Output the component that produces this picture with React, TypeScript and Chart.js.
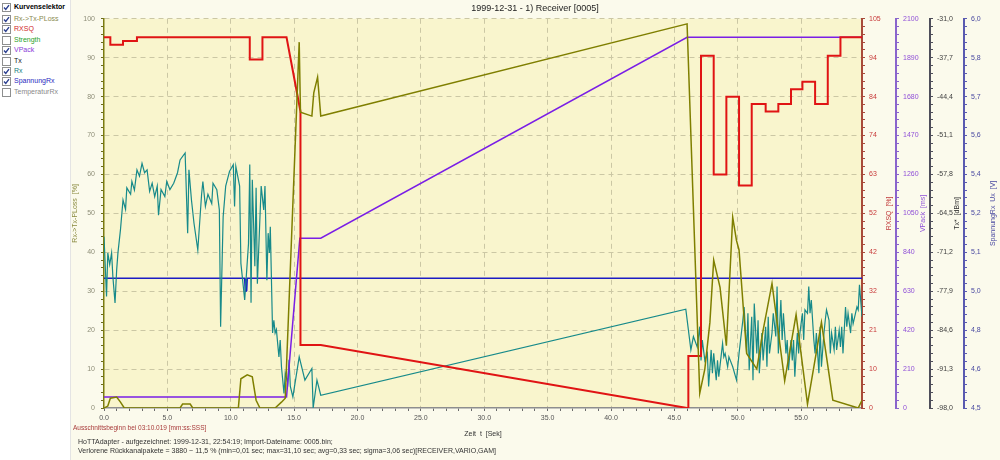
import React, { useEffect, useRef } from "react";
import { Chart, registerables } from "chart.js";

Chart.register(...registerables);

const FONT = "'Liberation Sans', Arial, sans-serif";

const chartTitle = "1999-12-31 - 1) Receiver [0005]";
const xTitle = "Zeit  t  [Sek]";
const startInfo = "Ausschnittsbeginn bei 03:10.019 [mm:ss:SSS]";
const footerLine1 = "HoTTAdapter - aufgezeichnet: 1999-12-31, 22:54:19; Import-Dateiname: 0005.bin;";
const footerLine2 =
  "Verlorene Rückkanalpakete = 3880 ~ 11,5 % (min=0,01 sec; max=31,10 sec; avg=0,33 sec; sigma=3,06 sec)[RECEIVER,VARIO,GAM]";

// ---- series (time [s], value) ----
const ploss: [number, number][] = [
  [0, 0], [0.3, 0.5], [0.5, 2.5], [1.0, 2.8], [1.3, 1.5], [1.6, 0], [6.0, 0], [6.2, 1], [6.8, 1], [7.0, 0],
  [10.6, 0], [10.8, 7.5], [11.3, 8.5], [11.7, 8], [12.0, 2], [12.3, 0], [13.5, 0], [14.0, 1.5], [14.3, 2.5],
  [15.4, 94], [15.5, 76], [16.4, 75], [16.55, 81], [16.85, 85], [17.1, 75], [46.0, 98.7], [47.0, 3.8],
  [47.4, 10], [47.8, 22], [48.1, 38], [48.6, 31], [49.1, 16], [49.6, 49], [49.9, 43], [50.1, 40.6], [50.7, 14],
  [51.5, 10], [52.0, 20], [52.7, 32], [53.7, 7], [54.6, 24], [55.5, 1], [56.6, 22], [57.5, 2], [59.5, 0], [59.8, 2],
];

const rxsq: [number, number][] = [
  [0, 100], [0.5, 100], [0.5, 98], [1.5, 98], [1.5, 99], [2.6, 99], [2.6, 100], [11.5, 100], [11.5, 94],
  [12.5, 94], [12.5, 100], [14.4, 100], [15.5, 80], [15.5, 17], [17.1, 17], [46.0, 0], [46.1, 0], [46.1, 14],
  [47.1, 14], [47.1, 95], [48.1, 95], [48.1, 63], [49.1, 63], [49.1, 84], [50.1, 84], [50.1, 60], [51.1, 60],
  [51.1, 82], [52.2, 82], [52.2, 80], [53.2, 80], [53.2, 82], [54.2, 82], [54.2, 86], [55.1, 86], [55.1, 88],
  [56.1, 88], [56.1, 82], [57.1, 82], [57.1, 95], [58.1, 95], [58.1, 100], [59.8, 100],
];

const vpack: [number, number][] = [
  [0, 60], [14.4, 60], [15.45, 916], [17.1, 916], [46.0, 2000], [59.8, 2000],
];

const rx: [number, number][] = [
  [0, -68.5], [0.2, -78.8], [0.3, -71.3], [0.45, -73.3], [0.6, -71.3], [0.7, -75.4], [0.87, -79.9], [1.0, -74.2],
  [1.1, -71.3], [1.3, -67.3], [1.5, -62.2], [1.7, -63.8], [1.8, -60.1], [2.1, -61.2], [2.2, -59.0], [2.4, -60.5],
  [2.6, -57.0], [2.8, -58.1], [3.0, -55.9], [3.2, -57.5], [3.4, -57.0], [3.6, -60.7], [3.8, -59.3], [4.0, -61.6],
  [4.2, -59.8], [4.3, -64.8], [4.5, -60.4], [4.8, -61.6], [4.95, -59.0], [5.2, -60.4], [5.5, -59.3], [5.8, -57.5],
  [6.0, -55.3], [6.4, -54.1], [6.6, -67.9], [6.7, -57.0], [6.9, -62.2], [7.1, -66.2], [7.4, -70.8], [7.7, -61.2],
  [7.8, -59.0], [8.0, -63.3], [8.2, -61.2], [8.5, -62.8], [8.6, -59.3], [8.9, -60.4], [9.1, -63.9], [9.2, -84.0],
  [9.4, -65.1], [9.6, -59.8], [9.9, -57.3], [10.2, -56.1], [10.3, -63.3], [10.4, -56.4], [10.7, -59.8], [10.8, -73.1],
  [11.1, -79.4], [11.4, -69.7], [11.5, -56.1], [11.6, -79.9], [11.7, -58.7], [11.9, -73.6], [12.0, -60.1],
  [12.1, -76.6], [12.4, -59.8], [12.6, -63.9], [12.7, -59.8], [12.85, -76.0], [12.95, -67.9], [13.05, -71.3],
  [13.12, -66.8], [13.3, -85.1], [13.4, -82.9], [13.5, -85.1], [13.6, -84.5], [13.8, -89.2], [13.9, -86.3],
  [14.0, -90.9], [14.2, -95.5], [14.3, -92.0], [14.5, -93.7], [14.6, -89.7], [14.7, -94.3], [14.9, -96.1],
  [15.4, -89.2], [15.85, -93.2], [16.4, -91.2], [16.5, -98.0], [16.8, -93.2], [17.1, -95.8], [45.9, -81.0],
  [46.3, -88.0], [46.5, -85.7], [46.8, -87.5], [47.0, -84.0], [47.1, -89.8], [47.2, -86.3], [47.4, -89.8],
  [47.6, -88.6], [47.7, -94.3], [47.9, -88.0], [48.0, -92.0], [48.1, -88.6], [48.3, -93.2], [48.4, -89.8],
  [48.5, -92.6], [48.8, -86.9], [48.9, -89.2], [49.0, -88.6], [49.2, -90.9], [49.3, -89.2], [49.6, -90.9],
  [49.9, -93.2], [50.1, -88.6], [50.4, -82.9], [50.5, -80.6], [50.7, -88.6], [50.8, -81.7], [50.9, -91.5],
  [51.1, -82.3], [51.2, -93.2], [51.3, -80.0], [51.5, -88.6], [51.6, -82.9], [51.7, -92.0], [51.9, -85.1],
  [52.0, -89.8], [52.2, -84.0], [52.3, -90.9], [52.4, -82.3], [52.5, -88.6], [52.7, -85.1], [52.8, -81.7],
  [53.0, -85.7], [53.1, -77.1], [53.2, -88.6], [53.4, -79.4], [53.5, -86.3], [53.6, -81.7], [53.8, -88.6],
  [53.9, -86.3], [54.0, -91.5], [54.2, -86.3], [54.3, -89.8], [54.4, -86.3], [54.5, -92.6], [54.7, -85.1],
  [54.8, -88.6], [54.9, -85.1], [55.1, -81.7], [55.2, -86.3], [55.3, -81.1], [55.5, -81.7], [55.6, -77.1],
  [55.7, -81.7], [55.8, -79.4], [56.0, -86.3], [56.1, -88.6], [56.2, -85.1], [56.4, -92.0], [56.5, -84.0],
  [56.6, -90.9], [56.8, -85.1], [56.9, -82.9], [57.0, -81.1], [57.2, -82.9], [57.3, -88.6], [57.4, -85.1],
  [57.6, -88.0], [57.7, -84.0], [57.8, -88.0], [58.0, -84.6], [58.1, -87.5], [58.2, -84.0], [58.3, -88.6],
  [58.5, -80.6], [58.6, -84.0], [58.7, -81.7], [58.9, -85.1], [59.0, -81.7], [59.1, -83.5], [59.4, -80.6],
  [59.5, -81.1], [59.6, -76.8], [59.8, -82.3],
];

const spannung: [number, number][] = [
  [0, 5.0], [11.1, 5.0], [11.15, 4.95], [11.2, 5.0], [11.25, 4.95], [11.3, 5.0], [59.8, 5.0],
];

// ---- tick labels ----
const xTickLabels = ["0.0", "5.0", "10.0", "15.0", "20.0", "25.0", "30.0", "35.0", "40.0", "45.0", "50.0", "55.0"];
const leftTickLabels = ["0", "10", "20", "30", "40", "50", "60", "70", "80", "90", "100"];
const rxsqTickLabels = ["0", "10", "21", "32", "42", "52", "63", "74", "84", "94", "105"];
const vpackTickLabels = ["0", "210", "420", "630", "840", "1050", "1260", "1470", "1680", "1890", "2100"];
const txTickLabels = ["-98,0", "-91,3", "-84,6", "-77,9", "-71,2", "-64,5", "-57,8", "-51,1", "-44,4", "-37,7", "-31,0"];
const uTickLabels = ["4,5", "4,6", "4,8", "5,0", "5,1", "5,2", "5,4", "5,6", "5,7", "5,8", "6,0"];

const selectorItems = [
  { text: "Kurvenselektor", color: "#000000", checked: true, bold: true },
  { text: "Rx->Tx-PLoss", color: "#8a8a50", checked: true },
  { text: "RXSQ", color: "#d02828", checked: true },
  { text: "Strength", color: "#2aa02a", checked: false },
  { text: "VPack", color: "#8a3ad8", checked: true },
  { text: "Tx", color: "#202020", checked: false },
  { text: "Rx", color: "#188080", checked: true },
  { text: "SpannungRx", color: "#2a2ac0", checked: true },
  { text: "TemperaturRx", color: "#8a8a8a", checked: false },
];

const GRID = "#cbc7a4";

function fifthTicks(min: number, max: number, majors: number) {
  const n = (majors - 1) * 5;
  const out: { value: number }[] = [];
  for (let i = 0; i <= n; i++) out.push({ value: min + ((max - min) * i) / n });
  return out;
}

function rightAxis(min: number, max: number, labels: string[], lineColor: string, labelColor: string, w: number) {
  return {
    type: "linear" as const,
    position: "right" as const,
    min,
    max,
    afterBuildTicks: (s: any) => {
      s.ticks = fifthTicks(min, max, labels.length);
    },
    afterFit: (s: any) => {
      s.width = w;
    },
    grid: { drawOnChartArea: false, drawTicks: true, tickLength: 3, tickColor: lineColor, tickWidth: 1 },
    border: { display: true, color: lineColor, width: 2 },
    ticks: {
      autoSkip: false,
      color: labelColor,
      padding: 4,
      font: { size: 7, family: FONT },
      callback: (_v: any, i: number) => (i % 5 === 0 ? labels[i / 5] : ""),
    },
    title: { display: false },
  };
}

const rightTitles: Record<string, { text: string; color: string }> = {
  yR: { text: "RXSQ  [%]", color: "#c03a3a" },
  yV: { text: "VPack  [ms]", color: "#9050d8" },
  yT: { text: "Tx*  [dBm]", color: "#303030" },
  yU: { text: "SpannungRx  Ux  [V]", color: "#4848a0" },
};

const decorPlugin = {
  id: "decor",
  beforeDraw(chart: any) {
    const { ctx, chartArea: a } = chart;
    ctx.save();
    ctx.fillStyle = "#f9f5cd";
    ctx.fillRect(a.left, a.top, a.right - a.left, a.bottom - a.top);
    ctx.restore();
  },
  afterDraw(chart: any) {
    const { ctx, chartArea: a } = chart;
    const cy = (a.top + a.bottom) / 2;
    Object.keys(rightTitles).forEach((id) => {
      const s = chart.scales[id];
      if (!s) return;
      ctx.save();
      ctx.translate(s.right - 7, cy);
      ctx.rotate(-Math.PI / 2);
      ctx.font = `7px ${FONT}`;
      ctx.fillStyle = rightTitles[id].color;
      ctx.textAlign = "center";
      ctx.textBaseline = "middle";
      ctx.fillText(rightTitles[id].text, 0, 0);
      ctx.restore();
    });
  },
};

const toXY = (arr: [number, number][]) => arr.map(([x, y]) => ({ x, y }));

function Selector() {
  return (
    <div
      style={{
        position: "absolute",
        left: 0,
        top: 0,
        width: 70,
        height: 460,
        background: "#ffffff",
        borderRight: "1px solid #e4e4e4",
        fontFamily: FONT,
      }}
    >
      {selectorItems.map((it, i) => (
        <div
          key={it.text}
          style={{
            position: "absolute",
            left: 0,
            top: i === 0 ? 2 : 14 + (i - 1) * 10.4,
            height: 10,
            width: 70,
          }}
        >
          <span
            style={{
              position: "absolute",
              left: 2,
              top: 1,
              width: 7,
              height: 7,
              border: "1px solid #8e8f8f",
              background: "#fff",
              boxSizing: "content-box",
            }}
          >
            {it.checked && (
              <svg width="7" height="7" viewBox="0 0 7 7" style={{ position: "absolute", left: 0, top: 0 }}>
                <polyline points="1,3.5 2.8,5.5 6,1.2" fill="none" stroke="#2b3f8f" strokeWidth="1.4" />
              </svg>
            )}
          </span>
          <span
            style={{
              position: "absolute",
              left: 14,
              top: 0,
              fontSize: 7,
              lineHeight: "10px",
              color: it.color,
              fontWeight: it.bold ? "bold" : "normal",
              whiteSpace: "nowrap",
            }}
          >
            {it.text}
          </span>
        </div>
      ))}
    </div>
  );
}

export default function App() {
  const ref = useRef<HTMLCanvasElement>(null);

  useEffect(() => {
    document.body.style.margin = "0";
    const canvas = ref.current;
    if (!canvas) return;
    const chart = new Chart(canvas, {
      type: "line",
      data: {
        datasets: [
          { label: "Rx->Tx-PLoss", data: toXY(ploss), borderColor: "#7f7f00", borderWidth: 1.5, yAxisID: "y" },
          { label: "RXSQ", data: toXY(rxsq), borderColor: "#e01414", borderWidth: 2, yAxisID: "yR" },
          { label: "VPack", data: toXY(vpack), borderColor: "#7a1ee6", borderWidth: 1.5, yAxisID: "yV" },
          { label: "Rx", data: toXY(rx), borderColor: "#178a8a", borderWidth: 1.2, yAxisID: "yT" },
          { label: "SpannungRx", data: toXY(spannung), borderColor: "#1c1cc4", borderWidth: 1.6, yAxisID: "yU" },
        ] as any,
      },
      options: {
        animation: false,
        responsive: true,
        maintainAspectRatio: false,
        parsing: false as any,
        normalized: true,
        elements: { point: { radius: 0 }, line: { tension: 0 } },
        layout: { padding: { left: 0, right: 0, top: 0, bottom: 22 } },
        plugins: {
          legend: { display: false },
          tooltip: { enabled: false },
          title: {
            display: true,
            text: chartTitle,
            color: "#222222",
            font: { size: 9, family: FONT, weight: "normal" as any },
            padding: { top: 3, bottom: 5 },
          },
        },
        scales: {
          x: {
            type: "linear",
            position: "bottom",
            min: 0,
            max: 59.8,
            afterBuildTicks: (s: any) => {
              const t: { value: number }[] = [];
              for (let i = 0; i <= 59; i++) t.push({ value: i });
              s.ticks = t;
            },
            afterFit: (s: any) => {
              s.height = 30;
            },
            grid: {
              color: (c: any) => (c.tick && c.tick.value % 5 === 0 && c.tick.value > 0 ? GRID : "rgba(0,0,0,0)"),
              tickColor: "#6a6a6a",
              tickLength: 3,
              drawTicks: true,
            },
            border: { display: true, color: "#8e8e8e", width: 1.5, dash: [5, 4] },
            ticks: {
              autoSkip: false,
              maxRotation: 0,
              color: "#555555",
              padding: 3,
              font: { size: 7, family: FONT },
              callback: (v: any) => (Number(v) % 5 === 0 ? xTickLabels[Number(v) / 5] : ""),
            },
            title: {
              display: true,
              text: xTitle,
              color: "#333333",
              font: { size: 7, family: FONT },
              padding: { top: 0, bottom: 0 },
            },
          },
          y: {
            type: "linear",
            position: "left",
            min: 0,
            max: 100,
            afterBuildTicks: (s: any) => {
              s.ticks = fifthTicks(0, 100, leftTickLabels.length);
            },
            afterFit: (s: any) => {
              s.width = 34;
            },
            grid: {
              color: (c: any) => (c.index % 5 === 0 && c.index > 0 ? GRID : "rgba(0,0,0,0)"),
              tickColor: "#6b6b20",
              tickLength: 3,
              drawTicks: true,
            },
            border: { display: true, color: "#7a7a10", width: 1.5, dash: [5, 4] },
            ticks: {
              autoSkip: false,
              color: "#8e8e78",
              padding: 6,
              font: { size: 7, family: FONT },
              callback: (_v: any, i: number) => (i % 5 === 0 ? leftTickLabels[i / 5] : ""),
            },
            title: {
              display: true,
              text: "Rx->Tx-PLoss  [%]",
              color: "#8a8a40",
              font: { size: 7, family: FONT },
              padding: { top: 1, bottom: 0 },
            },
          },
          yR: rightAxis(0, 105, rxsqTickLabels, "#a84a3a", "#c83a3a", 34),
          yV: rightAxis(0, 2100, vpackTickLabels, "#8a64cc", "#9050d8", 34),
          yT: rightAxis(-98, -31, txTickLabels, "#4e4e5a", "#404040", 34),
          yU: rightAxis(4.5, 6.0, uTickLabels, "#5a5ab0", "#4848a0", 36),
        } as any,
      },
      plugins: [decorPlugin],
    } as any);
    return () => chart.destroy();
  }, []);

  return (
    <div
      style={{
        position: "relative",
        width: 1000,
        height: 460,
        background: "#fbfaec",
        overflow: "hidden",
        fontFamily: FONT,
      }}
    >
      <Selector />
      <div style={{ position: "absolute", left: 70, top: 0, width: 930, height: 460 }}>
        <canvas ref={ref} />
      </div>
      <div
        style={{
          position: "absolute",
          left: 73,
          top: 423,
          fontSize: 6.5,
          lineHeight: "10px",
          color: "#a83a3a",
          whiteSpace: "nowrap",
        }}
      >
        {startInfo}
      </div>
      <div
        style={{
          position: "absolute",
          left: 78,
          top: 438,
          fontSize: 7,
          lineHeight: "8.5px",
          color: "#333333",
          whiteSpace: "nowrap",
        }}
      >
        <div>{footerLine1}</div>
        <div>{footerLine2}</div>
      </div>
    </div>
  );
}
